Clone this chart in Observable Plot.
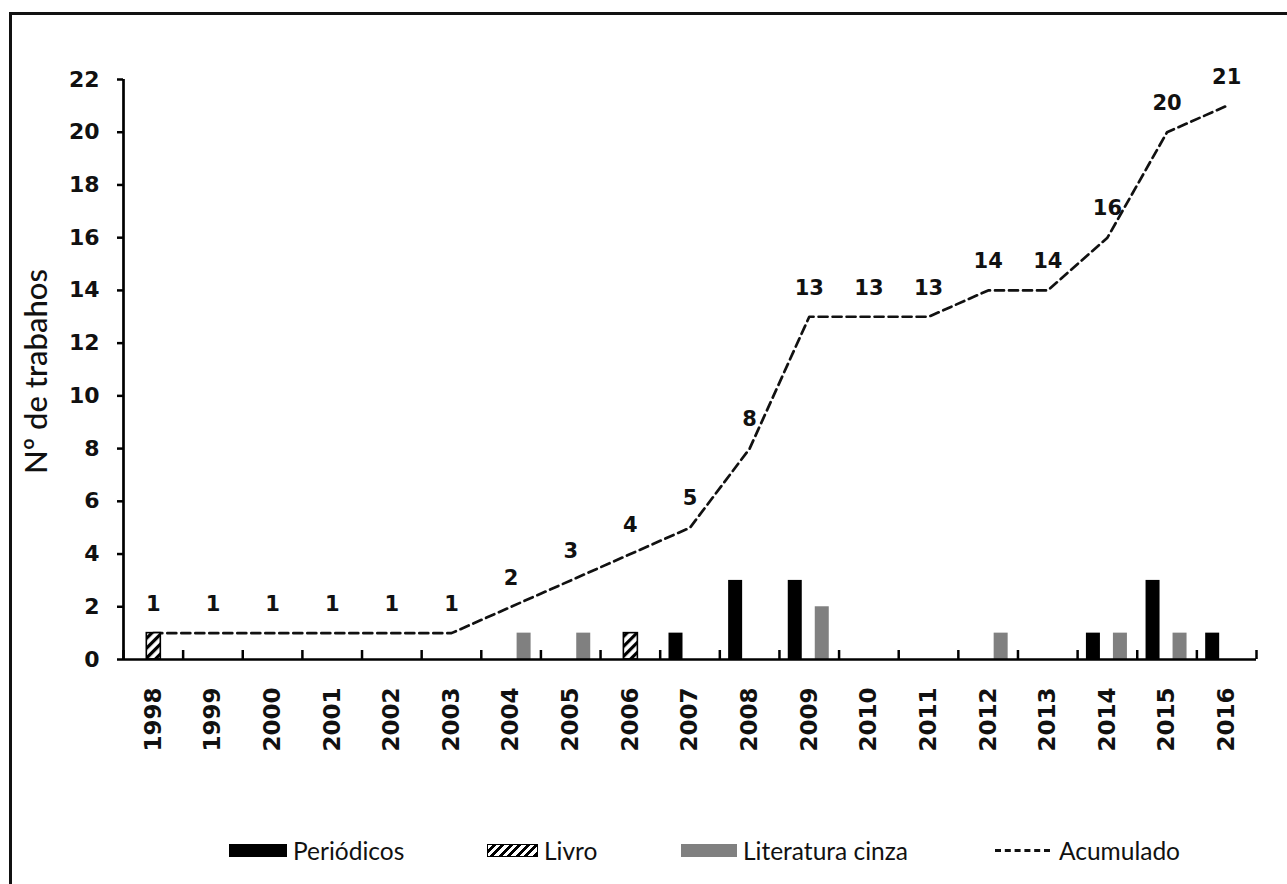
<!DOCTYPE html>
<html>
<head>
<meta charset="utf-8">
<script src="https://cdn.jsdelivr.net/npm/d3@7"></script>
<script src="https://cdn.jsdelivr.net/npm/@observablehq/plot@0.6"></script>
<style>
  body { margin: 0; background: #fff; }
  #wrap { position: relative; width: 1287px; height: 884px; overflow: hidden; background: #fff; }
  #frame { position: absolute; left: 9px; top: 12px; right: -20px; bottom: -20px;
           border-left: 3px solid #111; border-top: 3px solid #111; pointer-events: none; }
  #legend { position: relative; height: 54px; font-family: Lato, sans-serif; font-size: 24.5px; color: #111; }
  .item { position: absolute; top: 0; height: 40px; display: flex; align-items: center; }
  .sw { display: inline-block; height: 13px; margin-right: 6px; box-sizing: border-box; }
  .dash { display: inline-block; width: 55px; height: 0; border-top: 3px dashed #111; margin-right: 9px; }
</style>
</head>
<body>
<svg width="0" height="0" style="position:absolute">
  <defs>
    <pattern id="hatch" width="7" height="7" patternUnits="userSpaceOnUse" patternTransform="rotate(45)">
      <rect width="7" height="7" fill="#fff"></rect>
      <rect x="0" width="3.2" height="7" fill="#000"></rect>
    </pattern>
  </defs>
</svg>
<div id="wrap">
  <div id="chart"></div>
  <div id="legend"></div>
  <div id="frame"></div>
</div>
<script>
const years = ["1998","1999","2000","2001","2002","2003","2004","2005","2006","2007","2008","2009","2010","2011","2012","2013","2014","2015","2016"];
const periodicos = [0,0,0,0,0,0,0,0,0,1,3,3,0,0,0,0,1,3,1];
const livro      = [1,0,0,0,0,0,0,0,1,0,0,0,0,0,0,0,0,0,0];
const literatura = [0,0,0,0,0,0,1,1,0,0,0,2,0,0,1,0,1,1,0];
const acumulado  = [1,1,1,1,1,1,2,3,4,5,8,13,13,13,14,14,16,20,21];
const yTicks = [0,2,4,6,8,10,12,14,16,18,20,22];
const seriesNames = ["Periódicos","Livro","Literatura cinza","Acumulado"];
const yTitle = "Nº de trabahos";

const W = 1287, H = 830;
const mL = 123, mR = 31, mT = 79, mB = 171;
const bw = (W - mL - mR) / years.length;
const numFont = "DejaVu Sans, sans-serif";

const rows = (vals) => years.map((y, i) => ({year: y, value: vals[i]})).filter(d => d.value > 0);
const acc = years.map((y, i) => ({year: y, value: acumulado[i]}));
const barW = 14;
const inset = (bw - barW) / 2;
const plotH = H - mT - mB;

const chart = Plot.plot({
  width: W, height: H,
  marginLeft: mL, marginRight: mR, marginTop: mT, marginBottom: mB,
  style: {background: "#fff", overflow: "visible"},
  x: {type: "band", domain: years, padding: 0, round: false, axis: null},
  y: {domain: [0, 22], axis: null},
  marks: [
    // line first (bars drawn over it)
    Plot.line(acc, {x: "year", y: "value", stroke: "#111", strokeWidth: 2.7, strokeDasharray: "9,5"}),
    Plot.barY(rows(periodicos), {x: "year", y: "value", fill: "#000", insetLeft: inset, insetRight: inset, dx: -14}),
    Plot.barY(rows(livro), {x: "year", y: "value", fill: "url(#hatch)", stroke: "#000", strokeWidth: 1.6, insetLeft: inset, insetRight: inset, dx: 0.5}),
    Plot.barY(rows(literatura), {x: "year", y: "value", fill: "#808080", insetLeft: inset, insetRight: inset, dx: 13}),
    // axis lines
    Plot.ruleY([0], {stroke: "#000", strokeWidth: 2.7}),
    Plot.ruleX([years[0]], {y1: 0, y2: 22, dx: -bw / 2, stroke: "#000", strokeWidth: 2.7}),
    // x boundary ticks (pointing up)
    Plot.tickX(years, {x: d => d, dx: -bw / 2, insetTop: plotH - 9, stroke: "#000", strokeWidth: 2.5}),
    Plot.tickX([years[years.length - 1]], {x: d => d, dx: bw / 2, insetTop: plotH - 9, stroke: "#000", strokeWidth: 2.5}),
    // y axis ticks & labels
    Plot.axisY(yTicks, {tickSize: 6, tickPadding: 18, strokeWidth: 2.5, fontSize: 22, fontWeight: "bold", fontFamily: numFont, fill: "#111", label: null}),
    // x axis labels
    Plot.axisX(years, {tickSize: 0, tickPadding: 28, tickRotate: -90, fontSize: 23, fontWeight: "bold", fontFamily: numFont, fill: "#111", label: null}),
    // data labels
    Plot.text(acc, {x: "year", y: "value", text: d => String(d.value), dy: -29, fontSize: 21, fontWeight: "bold", fontFamily: numFont, fill: "#111"}),
    // y title
    Plot.text([yTitle], {frameAnchor: "left", dx: -86, dy: 2, rotate: -90, textAnchor: "middle", lineAnchor: "middle", text: d => d, fontSize: 31, fontWeight: 500, fontFamily: "Lato, sans-serif", fill: "#111"})
  ]
});
document.getElementById("chart").appendChild(chart);

// legend
const legend = document.getElementById("legend");
const items = [
  {name: seriesNames[0], left: 229, sw: "background:#000;width:58px;"},
  {name: seriesNames[1], left: 487, sw: "width:51px;border:1.6px solid #000;background-image:repeating-linear-gradient(135deg,#fff 0 3px,#000 3px 6px);"},
  {name: seriesNames[2], left: 681, sw: "background:#808080;width:56px;"},
  {name: seriesNames[3], left: 995, line: true}
];
for (const it of items) {
  const d = document.createElement("div");
  d.className = "item";
  d.style.left = it.left + "px";
  const s = document.createElement("span");
  if (it.line) { s.className = "dash"; } else { s.className = "sw"; s.style.cssText = it.sw; }
  d.appendChild(s);
  const t = document.createElement("span");
  t.textContent = it.name;
  d.appendChild(t);
  legend.appendChild(d);
}
</script>
</body>
</html>
